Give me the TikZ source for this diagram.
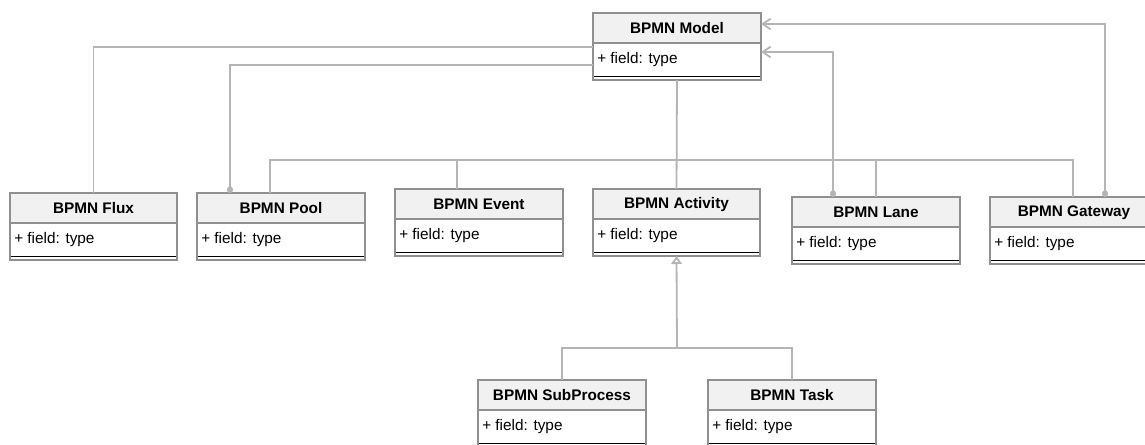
\documentclass[tikz,border=0pt]{standalone}
\usepackage{fontspec}
\setmainfont{Liberation Sans}
\usetikzlibrary{arrows.meta,calc}
\definecolor{boxgray}{HTML}{909090}
\definecolor{hdrfill}{HTML}{F1F1F1}
\definecolor{linkgray}{HTML}{B5B5B5}
\tikzset{
  boxframe/.style={draw=boxgray, line width=1.5pt, inner sep=0pt, outer sep=0pt},
  titletext/.style={font=\fontsize{11.5}{13}\selectfont\bfseries, inner sep=0pt},
  fieldtext/.style={font=\fontsize{11.5}{13}\selectfont, inner sep=0pt, anchor=west},
  link/.style={draw=linkgray, line width=1.35pt},
  dottip/.style={-{Circle[length=5pt,width=4.5pt]}},
  barbdot/.style={{Circle[length=5pt,width=4.5pt]}-{Straight Barb[length=6pt,width=8pt]}},
  inherit/.style={-{Triangle[length=6pt,width=8pt,fill=white]}},
}
\newcommand\umlbox[5]{%
  \fill[hdrfill] (#2,#3) rectangle (#4,#3+30);
  \draw[boxgray, line width=1pt] (#2,#3+30) -- (#4,#3+30);
  \draw[black, line width=0.6pt] (#2,#3+63) -- (#4,#3+63);
  \node[boxframe, minimum width={(#4-#2)*0.75pt}, minimum height={67*0.75pt}] (#1) at ({(#2+#4)/2},{#3+33.5}) {};
  \node[titletext] (#1-t) at ({(#2+#4)/2},{#3+15.5}) {#5};
  \node[fieldtext] (#1-f) at ({#2+4},{#3+47}) {+ field: type};
}
\begin{document}
\begin{tikzpicture}[x=0.75pt,y=-0.75pt]
\useasboundingbox (0,0) rectangle (1145,444);
\begin{scope}
\clip (0,0) rectangle (1145,444);
\coordinate (mL1) at (593,47);
\coordinate (mL2) at (593,65);
\coordinate (mR1) at (761,24);
\coordinate (mR2) at (761,52);
\coordinate (bus1) at (457,160);
\coordinate (ibus) at (677,348);

\umlbox{model}{593}{13}{761}{BPMN Model}
\umlbox{flux}{10}{193}{177}{BPMN Flux}
\umlbox{pool}{197}{193}{365}{BPMN Pool}
\umlbox{event}{395}{189}{563}{BPMN Event}
\umlbox{activity}{593}{189}{760}{BPMN Activity}
\umlbox{lane}{792}{197}{960}{BPMN Lane}
\umlbox{gateway}{990}{197}{1158}{BPMN Gateway}
\umlbox{sub}{478}{380}{646}{BPMN SubProcess}
\umlbox{task}{708}{380}{876}{BPMN Task}

% Flux
\draw[link] (mL1) -| (flux.north);
% Pool (dot end)
\draw[link,dottip] (mL2) -| ($(pool.north west)+(33,0)$);
% central bus
\draw[link] (model.south) -- (activity.north);
\draw[link] ($(pool.north west)+(73,0)$) |- (bus1) -| ($(gateway.north west)+(83,0)$);
\draw[link] (bus1) -- (bus1 |- event.north);
\draw[link] (lane.north) -- (lane.north |- bus1);
% Lane and Gateway to Model
\draw[link,barbdot] ($(lane.north west)+(41,0)$) |- (mR2);
\draw[link,barbdot] ($(gateway.north west)+(115,0)$) |- (mR1);
% inheritance
\draw[link] (sub.north) |- (ibus) -| (task.north);
\draw[link,inherit] (ibus) -- (activity.south);
\end{scope}
\end{tikzpicture}
\end{document}
